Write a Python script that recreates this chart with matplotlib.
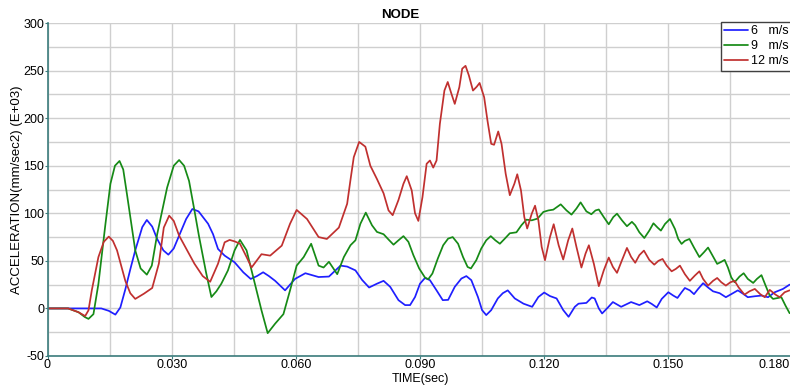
import numpy as np
import matplotlib
matplotlib.use("Agg")
from matplotlib import pyplot as plt
from matplotlib.ticker import MultipleLocator, FuncFormatter

# node acceleration history for three impact speeds (E+03 mm/sec2)
t_6 = [0, 0.0130, 0.0148, 0.0164, 0.0176, 0.0188, 0.0200, 0.0212, 0.0229, 0.0240,
       0.0253, 0.0265, 0.0280, 0.0292, 0.0305, 0.0318, 0.0335, 0.0350, 0.0365, 0.0388,
       0.0400, 0.0412, 0.0428, 0.0452, 0.0473, 0.0491, 0.0506, 0.0521, 0.0535, 0.0550,
       0.0574, 0.0598, 0.0623, 0.0655, 0.0680, 0.0708, 0.0724, 0.0744, 0.0760, 0.0777,
       0.0796, 0.0812, 0.0828, 0.0848, 0.0864, 0.0876, 0.0888, 0.0900, 0.0912, 0.0924,
       0.0940, 0.0955, 0.0968, 0.0984, 0.1000, 0.1012, 0.1024, 0.1040, 0.1050, 0.1060,
       0.1072, 0.1088, 0.1100, 0.1112, 0.1129, 0.1150, 0.1171, 0.1186, 0.1200, 0.1214,
       0.1230, 0.1246, 0.1259, 0.1274, 0.1283, 0.1302, 0.1315, 0.1322, 0.1332, 0.1340,
       0.1354, 0.1366, 0.1386, 0.1410, 0.1430, 0.1449, 0.1460, 0.1472, 0.1484, 0.1500,
       0.1512, 0.1522, 0.1532, 0.1540, 0.1552, 0.1562, 0.1572, 0.1584, 0.1596, 0.1608,
       0.1624, 0.1639, 0.1652, 0.1668, 0.1682, 0.1692, 0.1709, 0.1725, 0.1741, 0.1757,
       0.1777, 0.1793]
acc_6 = [0, 0, -2.5, -6.5, 1, 20, 41, 61, 85.5, 93,
         86, 73, 61, 56.5, 63, 76.5, 94, 104.5, 102, 89,
         78, 62.5, 55.5, 48.5, 38, 31, 34, 38, 34, 29,
         19, 31, 37, 33, 33.5, 45, 44, 40, 30, 22,
         26, 29, 22.7, 8.7, 3.5, 3.5, 12, 26, 32, 29.7,
         19, 8.7, 9, 22.7, 31.4, 34, 29.7, 12, -1.8, -7,
         -1.8, 10.5, 16, 19, 10.5, 5, 1.7, 12, 16.7, 13,
         10.5, -1.7, -8.8, 1.7, 5, 5.8, 11.5, 10.5, 0, -5.3,
         1, 6.7, 1.7, 6.7, 3.5, 7.5, 4.7, 1, 10, 17,
         13.5, 11, 17, 21.5, 19, 15, 20.5, 26.5, 22, 18,
         16, 11.8, 15, 19, 15, 11.8, 12.8, 13.5, 11.8, 17,
         20.5, 25]

t_9 = [0, 0.0050, 0.0075, 0.0090, 0.0099, 0.0111, 0.0123, 0.0140, 0.0152, 0.0163,
       0.0174, 0.0183, 0.0192, 0.0212, 0.0225, 0.0240, 0.0252, 0.0265, 0.0289, 0.0305,
       0.0318, 0.0330, 0.0342, 0.0355, 0.0366, 0.0383, 0.0396, 0.0408, 0.0420, 0.0436,
       0.0452, 0.0465, 0.0481, 0.0501, 0.0517, 0.0532, 0.0550, 0.0570, 0.0586, 0.0602,
       0.0619, 0.0637, 0.0655, 0.0667, 0.0680, 0.0700, 0.0716, 0.0732, 0.0744, 0.0756,
       0.0769, 0.0784, 0.0796, 0.0812, 0.0824, 0.0836, 0.0848, 0.0860, 0.0872, 0.0884,
       0.0898, 0.0912, 0.0920, 0.0930, 0.0943, 0.0956, 0.0968, 0.0979, 0.0992, 0.1004,
       0.1015, 0.1023, 0.1036, 0.1048, 0.1060, 0.1071, 0.1082, 0.1093, 0.1105, 0.1117,
       0.1133, 0.1145, 0.1157, 0.1170, 0.1184, 0.1198, 0.1210, 0.1222, 0.1240, 0.1254,
       0.1266, 0.1278, 0.1288, 0.1302, 0.1314, 0.1324, 0.1332, 0.1344, 0.1356, 0.1367,
       0.1376, 0.1388, 0.1400, 0.1412, 0.1420, 0.1430, 0.1442, 0.1454, 0.1464, 0.1474,
       0.1482, 0.1492, 0.1504, 0.1516, 0.1524, 0.1532, 0.1540, 0.1551, 0.1562, 0.1575,
       0.1586, 0.1596, 0.1607, 0.1618, 0.1628, 0.1636, 0.1644, 0.1652, 0.1660, 0.1672,
       0.1682, 0.1692, 0.1705, 0.1714, 0.1725, 0.1735, 0.1745, 0.1753, 0.1765, 0.1773,
       0.1783, 0.1793]
acc_9 = [0, 0, -4, -9, -11, -6, 25.75, 88.75, 131, 150,
         155, 146, 120, 61, 42, 35.5, 45, 78, 127, 150,
         156, 150, 134, 103, 76, 38, 12, 18, 26, 40,
         61, 72, 61, 26, -2, -26, -16, -6, 19, 45,
         54, 68, 45, 43, 49, 36, 54, 66.4, 71.6, 89,
         100.7, 87.4, 80.4, 78, 72.4, 67, 71.6, 76, 70, 56,
         42, 32.5, 30.7, 36.7, 52.4, 66.4, 73.4, 75, 68, 54,
         43.6, 42, 50.7, 63, 71.6, 76, 71.6, 68, 73.4, 79,
         80, 87.4, 93.3, 92.6, 94.4, 101.4, 103, 103.8, 109.4, 103,
         98.6, 105, 111.5, 102, 99, 103, 104, 96, 88.4, 96,
         99.6, 92.6, 86.4, 91, 87.4, 80, 74, 81.8, 89.5, 85,
         81.8, 88.8, 94, 83.5, 73, 67.8, 71, 73, 64, 54,
         59, 64, 55.5, 46.8, 49, 51, 43, 32.7, 27.5, 33.5,
         37, 31, 26.8, 31, 35, 24, 13.5, 10, 11, 11.8,
         3, -5]

t_12 = [0, 0.0050, 0.0075, 0.0091, 0.0099, 0.0107, 0.0123, 0.0136, 0.0148, 0.0158,
        0.0168, 0.0188, 0.0200, 0.0212, 0.0233, 0.0253, 0.0269, 0.0281, 0.0294, 0.0305,
        0.0318, 0.0335, 0.0355, 0.0375, 0.0393, 0.0412, 0.0428, 0.0440, 0.0452, 0.0465,
        0.0481, 0.0493, 0.0505, 0.0517, 0.0538, 0.0566, 0.0586, 0.0602, 0.0627, 0.0655,
        0.0675, 0.0704, 0.0724, 0.0732, 0.0740, 0.0753, 0.0768, 0.0780, 0.0796, 0.0812,
        0.0824, 0.0834, 0.0848, 0.0860, 0.0868, 0.0880, 0.0888, 0.0896, 0.0906, 0.0916,
        0.0924, 0.0932, 0.0940, 0.0948, 0.0959, 0.0967, 0.0976, 0.0984, 0.0995, 0.1002,
        0.1010, 0.1018, 0.1028, 0.1037, 0.1044, 0.1055, 0.1063, 0.1072, 0.1079, 0.1089,
        0.1097, 0.1107, 0.1117, 0.1128, 0.1135, 0.1144, 0.1152, 0.1159, 0.1170, 0.1178,
        0.1186, 0.1194, 0.1202, 0.1214, 0.1223, 0.1235, 0.1246, 0.1258, 0.1268, 0.1278,
        0.1290, 0.1300, 0.1308, 0.1320, 0.1332, 0.1344, 0.1356, 0.1366, 0.1376, 0.1388,
        0.1400, 0.1410, 0.1420, 0.1430, 0.1441, 0.1454, 0.1466, 0.1476, 0.1486, 0.1496,
        0.1508, 0.1518, 0.1528, 0.1540, 0.1552, 0.1564, 0.1575, 0.1584, 0.1596, 0.1608,
        0.1618, 0.1628, 0.1639, 0.1650, 0.1660, 0.1670, 0.1684, 0.1696, 0.1709, 0.1722,
        0.1733, 0.1745, 0.1759, 0.1769, 0.1781, 0.1793]
acc_12 = [0, 0, -4, -8, -2, 19, 54, 70, 75.5, 71,
          61, 29, 16, 10, 15.5, 21.5, 47, 85, 97.5, 92,
          76.5, 63, 47, 34, 28, 47, 69.5, 72, 70.5, 68,
          54, 43, 50, 57, 55.5, 66, 89, 103.5, 94, 75,
          73, 85, 110, 135, 159, 175, 170, 150, 136, 121,
          103, 98, 114, 131, 139, 124, 100, 92, 117, 152,
          155.5, 148, 155.5, 194, 229, 238, 225.5, 215, 232.5, 252,
          255, 245, 229, 233, 237, 222, 197.5, 173, 172, 186,
          173, 141.6, 119, 131, 141, 124, 96, 84, 99.6, 108,
          92.6, 64.6, 50.7, 75, 88.5, 66.4, 51.4, 71.6, 84, 64.6,
          43, 57.7, 66.4, 47, 23.4, 40, 53.5, 43.7, 37.4, 50.7,
          63.6, 54.2, 48, 56, 60.8, 51, 46, 50, 52, 45,
          39, 41.5, 45, 36, 29, 34.5, 39, 31, 24, 29,
          32, 27.5, 24, 27.5, 29, 22, 14.5, 18, 20.5, 15,
          11.8, 19.5, 14.5, 11.8, 17, 19]

labels = ["6   m/s", "9   m/s", "12 m/s"]
colors = ["#1f1fff", "#168a16", "#c0302f"]

plt.rcParams["font.family"] = ["Liberation Sans", "DejaVu Sans"]

fig = plt.figure(figsize=(7.9, 3.89), dpi=100)
# plot area runs a few pixels past the right edge of the image
ax = fig.add_axes([47.5 / 790, 1 - 356 / 389, (792.5 - 47.5) / 790, (356 - 23) / 389])

for t, a, lab, c in zip([t_6, t_9, t_12], [acc_6, acc_9, acc_12], labels, colors):
    ax.plot(t, a, color=c, lw=1.25, label=lab,
            solid_joinstyle="round", solid_capstyle="round")

ax.set_xlim(0, 0.18)
ax.set_ylim(-50, 300)
ax.xaxis.set_major_locator(MultipleLocator(0.030))
ax.xaxis.set_minor_locator(MultipleLocator(0.015))
ax.yaxis.set_major_locator(MultipleLocator(50))
ax.yaxis.set_minor_locator(MultipleLocator(25))


def fmt_time(v, pos):
    if abs(v) < 1e-9:
        return "0"
    if v > 0.179:
        return ""  # last label is pulled inside the edge below
    return "%.3f" % v


ax.xaxis.set_major_formatter(FuncFormatter(fmt_time))
ax.yaxis.set_major_formatter(FuncFormatter(lambda v, p: "%d" % v))

ax.grid(which="both", color="#cfcfcf", lw=1.0)
ax.set_axisbelow(True)
for s in ["top", "right"]:
    ax.spines[s].set_visible(False)
for s in ["left", "bottom"]:
    ax.spines[s].set_color("#3b7c7c")
    ax.spines[s].set_linewidth(1.2)

ax.tick_params(which="major", length=2, width=0.8, color="#3b7c7c", pad=0.5, labelsize=9)
ax.tick_params(which="minor", length=0)
fig.text(790 / 790, 1 - 359 / 389, "%.3f" % 0.180, ha="right", va="top", fontsize=9)

ax.set_xlabel("TIME(sec)", fontsize=9, labelpad=1)
ax.set_ylabel("ACCELERATION(mm/sec2) (E+03)", fontsize=9.5)
ax.yaxis.set_label_coords(-(47.5 - 23) / 745, 0.5)
fig.text(400 / 790, 1 - 15 / 389, "NODE", ha="center", va="center",
         fontsize=9.5, fontweight="bold")

leg = ax.legend(loc="upper left", bbox_to_anchor=(721 / 790, 1 - 22 / 389),
                bbox_transform=fig.transFigure, fancybox=False, edgecolor="#404040",
                framealpha=1, fontsize=9, handlelength=1.9, handletextpad=0.25,
                borderpad=0.25, labelspacing=0.25, borderaxespad=0, handleheight=0.6)
leg.get_frame().set_linewidth(1.0)

plt.savefig("out.png", dpi=100)
